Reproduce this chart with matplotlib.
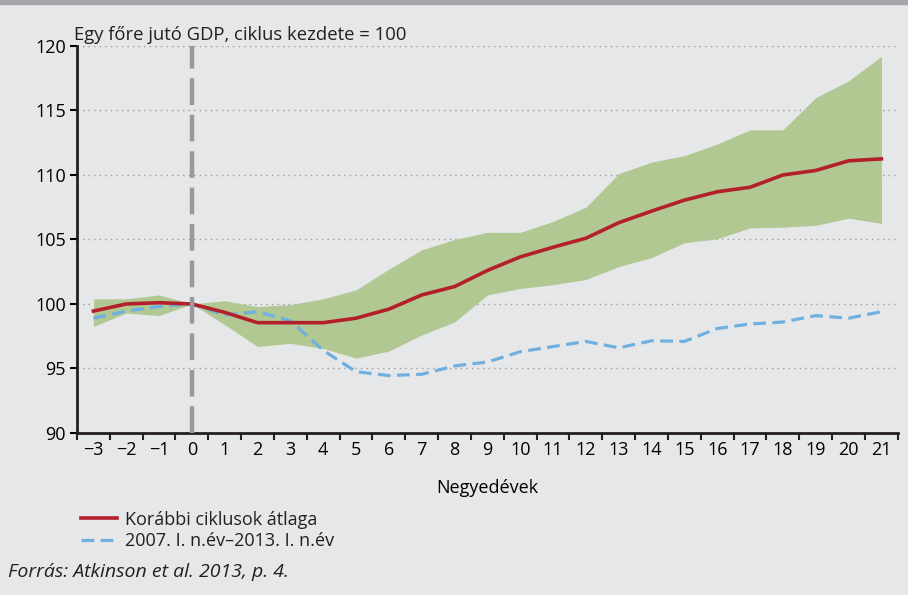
import matplotlib.pyplot as plt
import numpy as np

quarters = list(range(-3, 22))
avg_prev = [99.45, 100.0, 100.1, 100.0, 99.35, 98.55, 98.55, 98.55, 98.9, 99.6, 100.7,
            101.35, 102.6, 103.65, 104.4, 105.1, 106.3, 107.2, 108.05, 108.7, 109.05,
            110.0, 110.35, 111.1, 111.25]
band_high = [100.4, 100.4, 100.7, 100.0, 100.25, 99.8, 99.95, 100.4, 101.1, 102.7, 104.2,
             105.0, 105.55, 105.55, 106.4, 107.5, 110.1, 111.0, 111.5, 112.4, 113.5,
             113.5, 116.0, 117.3, 119.2]
band_low = [98.25, 99.3, 99.1, 100.0, 98.4, 96.7, 96.95, 96.55, 95.8, 96.35, 97.6,
            98.6, 100.7, 101.2, 101.5, 101.9, 102.9, 103.6, 104.75, 105.05, 105.9,
            105.95, 106.1, 106.65, 106.25]
crisis = [98.9, 99.45, 99.8, 100.0, 99.15, 99.4, 98.7, 96.4, 94.75, 94.45, 94.55,
          95.2, 95.5, 96.3, 96.7, 97.1, 96.6, 97.15, 97.1, 98.1, 98.45,
          98.6, 99.1, 98.9, 99.4]
tick_labels = [str(q).replace('-', '\u2212') for q in quarters]

bg = '#e6e7e9'
fs = 13
plt.rcParams['font.family'] = ['Open Sans', 'DejaVu Sans']
plt.rcParams['text.color'] = '#231f20'

fig = plt.figure(figsize=(9.08, 5.95), dpi=100, facecolor=bg)
ax = fig.add_axes([0.0848, 0.2723, 0.904, 0.6504])
ax.set_facecolor(bg)

x = np.arange(len(quarters))
ax.fill_between(x, band_low, band_high, color='#b1c893', linewidth=0, zorder=2)
ax.plot(x, crisis, color='#6fb0df', lw=2.3, dashes=(4, 2), zorder=3,
        label='2007. I. n.év\u20132013. I. n.év')
ax.plot(x, avg_prev, color='#b3202a', lw=2.6, zorder=4, label='Korábbi ciklusok átlaga')
ax.axvline(quarters.index(0), color='#98999b', lw=3.2, dashes=(6, 2.2), zorder=5)

ax.set_xlim(-0.5, len(quarters) - 0.5)
ax.set_ylim(90, 120)
ax.set_yticks(range(90, 121, 5))
for v in range(95, 121, 5):
    ax.axhline(v, color='#9a9a9a', lw=1, ls=(0, (1, 3)), zorder=1)

ax.set_xticks(np.arange(-0.5, len(quarters), 1))
ax.set_xticklabels([])
ax.set_xticks(x, minor=True)
ax.set_xticklabels(tick_labels, minor=True)
ax.tick_params(axis='x', which='major', length=5, width=1.5, direction='out', color='#231f20')
ax.tick_params(axis='x', which='minor', length=0, pad=6, labelsize=fs)
ax.tick_params(axis='y', length=5, width=1.5, direction='out', labelsize=fs, pad=3)

for s in ['top', 'right']:
    ax.spines[s].set_visible(False)
for s in ['left', 'bottom']:
    ax.spines[s].set_linewidth(2)
    ax.spines[s].set_color('#231f20')

ax.set_xlabel('Negyedévek', fontsize=fs, labelpad=14)
fig.text(0.0815, 0.9328, 'Egy főre jutó GDP, ciklus kezdete = 100', fontsize=13.3,
         va='baseline', ha='left')

handles, labels = ax.get_legend_handles_labels()
ax.legend(handles[::-1], labels[::-1], loc='upper left', bbox_to_anchor=(0.089, 0.142),
          bbox_transform=fig.transFigure, frameon=False, fontsize=fs,
          handlelength=2.0, handletextpad=0.45, labelspacing=0.2, borderaxespad=0,
          borderpad=0)

fig.text(0.009, 0.039, 'Forrás: Atkinson et al. 2013, p. 4.', fontsize=14,
         style='italic', va='center', ha='left')

# gray strip along the top edge
fig.patches.append(plt.Rectangle((0, 0.993), 1, 0.007, transform=fig.transFigure,
                                 color='#a6a7ab', zorder=0))

plt.savefig('out.png', dpi=100, facecolor=bg)
